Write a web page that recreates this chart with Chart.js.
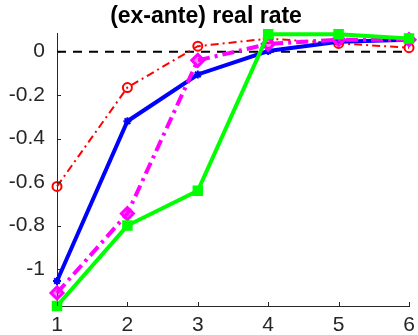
<!DOCTYPE html>
<html>
<head>
<meta charset="utf-8">
<script src="https://cdn.jsdelivr.net/npm/chart.js@4.4.1/dist/chart.umd.min.js"></script>
<style>
  html, body { margin: 0; padding: 0; background: #fff; }
  #wrap { width: 418px; height: 335px; }
</style>
</head>
<body>
<div id="wrap"><canvas id="rateChart" width="418" height="335"></canvas></div>
<script>
// datos
const horizons = [1, 2, 3, 4, 5, 6];
const redSeries = [-0.62, -0.165, 0.025, 0.06, 0.038, 0.018];
const blueSeries = [-1.055, -0.32, -0.105, 0.003, 0.045, 0.055];
const magentaSeries = [-1.11, -0.745, -0.04, 0.035, 0.055, 0.055];
const greenSeries = [-1.17, -0.80, -0.64, 0.08, 0.08, 0.06];
const zeroLine = [0, 0, 0, 0, 0, 0];
const yTickValues = [-1, -0.8, -0.6, -0.4, -0.2, 0];
const yTickLabels = ['-1', '-0.8', '-0.6', '-0.4', '-0.2', '0'];
const xTickValues = [1, 2, 3, 4, 5, 6];

const axisColor = '#262626';
const fontFamily = '"Liberation Sans", Arial, Helvetica, sans-serif';

function toPoints(values) {
    return values.map((v, i) => ({ x: horizons[i], y: v }));
}

// ticks hacia dentro como en MATLAB
const innerTicks = {
    id: 'innerTicks',
    afterDatasetsDraw(chart) {
        const ctx = chart.ctx;
        const x = chart.scales.x;
        const y = chart.scales.y;
        ctx.save();
        ctx.strokeStyle = axisColor;
        ctx.lineWidth = 1;
        ctx.beginPath();
        xTickValues.forEach(v => {
            const px = Math.round(x.getPixelForValue(v)) + 0.5;
            ctx.moveTo(px, y.bottom);
            ctx.lineTo(px, y.bottom - 4);
        });
        yTickValues.forEach(v => {
            const py = Math.round(y.getPixelForValue(v)) + 0.5;
            ctx.moveTo(x.left, py);
            ctx.lineTo(x.left + 4, py);
        });
        ctx.stroke();
        ctx.restore();
    }
};

new Chart(document.getElementById('rateChart'), {
    type: 'line',
    data: {
        datasets: [
            {
                data: toPoints(greenSeries),
                borderColor: '#00ff00',
                backgroundColor: '#00ff00',
                borderWidth: 4,
                pointStyle: 'rect',
                pointRadius: 6,
                pointBorderWidth: 2,
                order: 0,
                clip: false
            },
            {
                data: toPoints(magentaSeries),
                borderColor: '#ff00ff',
                backgroundColor: 'rgba(255,0,255,0.5)',
                borderWidth: 4,
                borderDash: [12, 5, 3, 5],
                pointStyle: 'rectRot',
                pointRadius: 6,
                pointBorderWidth: 3,
                order: 1,
                clip: false
            },
            {
                data: toPoints(blueSeries),
                borderColor: '#0000ff',
                backgroundColor: '#0000ff',
                borderWidth: 4,
                pointStyle: 'star',
                pointRadius: 4,
                pointBorderWidth: 2,
                order: 2,
                clip: false
            },
            {
                data: toPoints(redSeries),
                borderColor: '#ff0000',
                backgroundColor: 'rgba(0,0,0,0)',
                borderWidth: 2,
                borderDash: [8, 4, 2, 4],
                pointStyle: 'circle',
                pointRadius: 4.5,
                pointBorderWidth: 2,
                order: 3,
                clip: false
            },
            {
                data: toPoints(zeroLine),
                borderColor: '#000000',
                borderWidth: 2,
                borderDash: [9, 7],
                pointRadius: 0,
                order: 4
            }
        ]
    },
    options: {
        responsive: false,
        animation: false,
        layout: { padding: { left: 0, right: 6, top: 0, bottom: 0 } },
        plugins: {
            legend: { display: false },
            tooltip: { enabled: false },
            title: {
                display: true,
                text: '(ex-ante) real rate',
                color: '#000',
                font: { family: fontFamily, size: 23, weight: 'bold' },
                padding: { top: 3, bottom: 3 }
            }
        },
        elements: { line: { tension: 0 } },
        scales: {
            x: {
                type: 'linear',
                min: 1,
                max: 6,
                afterBuildTicks: scale => { scale.ticks = xTickValues.map(v => ({ value: v })); },
                afterFit: scale => {
                    scale.height = 29;
                    scale.paddingLeft = 0;
                    scale.paddingRight = 0;
                },
                ticks: {
                    color: axisColor,
                    padding: 7,
                    font: { family: fontFamily, size: 21 },
                    maxRotation: 0,
                    callback: v => String(v)
                },
                grid: { display: false, drawTicks: false },
                border: { display: true, color: axisColor, width: 1 }
            },
            y: {
                type: 'linear',
                min: -1.17,
                max: 0.083,
                afterBuildTicks: scale => { scale.ticks = yTickValues.map(v => ({ value: v })); },
                afterFit: scale => { scale.width = 57; },
                ticks: {
                    color: axisColor,
                    padding: 12,
                    font: { family: fontFamily, size: 21 },
                    callback: (v, i) => yTickLabels[i]
                },
                grid: { display: false, drawTicks: false },
                border: { display: true, color: axisColor, width: 1 }
            }
        }
    },
    plugins: [innerTicks]
});
</script>
</body>
</html>
